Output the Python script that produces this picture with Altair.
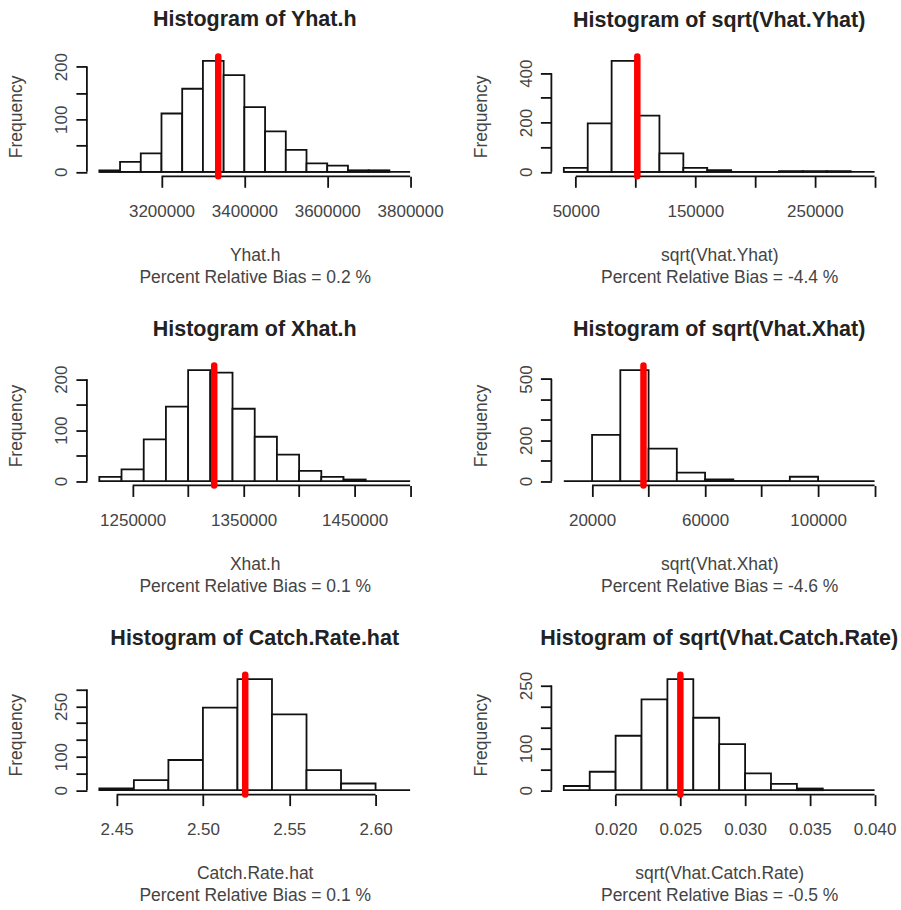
import json
import altair as alt
import pandas as pd

FONT = "Liberation Sans"
W, H = 336, 120

# ---------------- data ----------------
yhat_edges = [3050000, 3100000, 3150000, 3200000, 3250000, 3300000, 3350000, 3400000,
              3450000, 3500000, 3550000, 3600000, 3650000, 3700000, 3750000]
yhat_counts = [3, 19, 35, 111, 158, 211, 184, 123, 77, 42, 16, 12, 3, 3]
yhat_truth = 3337000

vy_edges = [40000, 60000, 80000, 100000, 120000, 140000, 160000, 180000, 200000,
            220000, 240000, 260000, 280000]
vy_counts = [16, 197, 450, 228, 75, 16, 7, 0, 0, 3, 3, 3]
vy_truth = 101500

xhat_edges = [1220000, 1240000, 1260000, 1280000, 1300000, 1320000, 1340000, 1360000,
              1380000, 1400000, 1420000, 1440000, 1460000]
xhat_counts = [8, 23, 82, 146, 218, 213, 142, 87, 52, 20, 8, 3]
xhat_truth = 1323500

vx_edges = [20000, 30000, 40000, 50000, 60000, 70000, 80000, 90000, 100000]
vx_counts = [226, 544, 159, 41, 8, 0, 0, 21]
vx_truth = 38200

cr_edges = [2.44, 2.46, 2.48, 2.50, 2.52, 2.54, 2.56, 2.58, 2.60]
cr_counts = [5, 30, 90, 246, 331, 226, 60, 20]
cr_truth = 2.5245

vcr_edges = [0.016, 0.018, 0.020, 0.022, 0.024, 0.026, 0.028, 0.030, 0.032, 0.034, 0.036]
vcr_counts = [10, 44, 130, 217, 265, 173, 110, 40, 15, 4]
vcr_truth = 0.025

panels_spec = [
    dict(title="Histogram of Yhat.h", xlab="Yhat.h", bias="Percent Relative Bias = 0.2 %",
         edges=yhat_edges, counts=yhat_counts, truth=yhat_truth,
         xlim=[3050000, 3800000], xticks=[3200000, 3400000, 3600000, 3800000], xshow=None, xfmt="d",
         yticks=[0, 50, 100, 150, 200], yshow=[0, 100, 200]),
    dict(title="Histogram of sqrt(Vhat.Yhat)", xlab="sqrt(Vhat.Yhat)", bias="Percent Relative Bias = -4.4 %",
         edges=vy_edges, counts=vy_counts, truth=vy_truth,
         xlim=[40000, 300000], xticks=[50000, 100000, 150000, 200000, 250000, 300000],
         xshow=[50000, 150000, 250000], xfmt="d",
         yticks=[0, 100, 200, 300, 400], yshow=[0, 200, 400]),
    dict(title="Histogram of Xhat.h", xlab="Xhat.h", bias="Percent Relative Bias = 0.1 %",
         edges=xhat_edges, counts=xhat_counts, truth=xhat_truth,
         xlim=[1220000, 1500000], xticks=[1250000, 1300000, 1350000, 1400000, 1450000, 1500000],
         xshow=[1250000, 1350000, 1450000], xfmt="d",
         yticks=[0, 50, 100, 150, 200], yshow=[0, 100, 200]),
    dict(title="Histogram of sqrt(Vhat.Xhat)", xlab="sqrt(Vhat.Xhat)", bias="Percent Relative Bias = -4.6 %",
         edges=vx_edges, counts=vx_counts, truth=vx_truth,
         xlim=[10000, 120000], xticks=[20000, 40000, 60000, 80000, 100000, 120000],
         xshow=[20000, 60000, 100000], xfmt="d",
         yticks=[0, 100, 200, 300, 400, 500], yshow=[0, 200, 500]),
    dict(title="Histogram of Catch.Rate.hat", xlab="Catch.Rate.hat", bias="Percent Relative Bias = 0.1 %",
         edges=cr_edges, counts=cr_counts, truth=cr_truth,
         xlim=[2.44, 2.62], xticks=[2.45, 2.50, 2.55, 2.60], xshow=None, xfmt=".2f",
         yticks=[0, 50, 100, 150, 200, 250, 300], yshow=[0, 100, 250]),
    dict(title="Histogram of sqrt(Vhat.Catch.Rate)", xlab="sqrt(Vhat.Catch.Rate)",
         bias="Percent Relative Bias = -0.5 %",
         edges=vcr_edges, counts=vcr_counts, truth=vcr_truth,
         xlim=[0.016, 0.040], xticks=[0.020, 0.025, 0.030, 0.035, 0.040], xshow=None, xfmt=".3f",
         yticks=[0, 50, 100, 150, 200, 250], yshow=[0, 100, 250]),
]

INK = "#111111"


def show_expr(vals):
    return f"indexof({json.dumps(vals)}, datum.value) >= 0 ? datum.label : ''"


def panel(p):
    counts = p["counts"]
    edges = p["edges"]
    ymax = max(counts)
    ylo, yhi = -0.04 * ymax, 1.04 * ymax
    x0, x1 = p["xlim"]
    xr = x1 - x0
    xlo, xhi = x0 - 0.04 * xr, x1 + 0.04 * xr

    xs = alt.Scale(domain=[xlo, xhi], nice=False, zero=False)
    ys = alt.Scale(domain=[ylo, yhi], nice=False, zero=False)

    xaxis_kw = dict(values=p["xticks"], format=p["xfmt"], title=[p["xlab"], p["bias"]],
                    domain=False, grid=False, tickSize=11, labelPadding=16,
                    labelOverlap=False, labelFlush=False, labelBound=False, titlePadding=27)
    if p["xshow"]:
        xaxis_kw["labelExpr"] = show_expr(p["xshow"])
    xaxis = alt.Axis(**xaxis_kw)
    yaxis = alt.Axis(values=p["yticks"], format="d", title="Frequency", labelExpr=show_expr(p["yshow"]),
                     domain=False, grid=False, tickSize=11, labelAngle=270, labelAlign="center",
                     labelBaseline="alphabetic", labelPadding=9, labelOverlap=False,
                     labelFlush=False, labelBound=False, titlePadding=27)

    X = lambda: alt.X("x:Q", scale=xs, axis=xaxis)
    Y = lambda: alt.Y("y:Q", scale=ys, axis=yaxis)

    bars_df = pd.DataFrame({"x": edges[:-1], "x2": edges[1:], "y": counts, "y2": [0] * len(counts)})
    base_df = pd.DataFrame({"x": [x0], "x2": [x1], "y": [0]})
    xline_df = pd.DataFrame({"x": [p["xticks"][0]], "x2": [p["xticks"][-1]], "y": [ylo]})
    yline_df = pd.DataFrame({"x": [xlo], "y": [0], "y2": [p["yticks"][-1]]})
    truth_df = pd.DataFrame({"x": [p["truth"]]})

    baseline = alt.Chart(base_df).mark_rule(color=INK, strokeWidth=1.8).encode(
        x=X(), x2="x2:Q", y=Y())
    bars = alt.Chart(bars_df).mark_rect(fill="white", stroke=INK, strokeWidth=1.8).encode(
        x=X(), x2="x2:Q", y=Y(), y2="y2:Q")
    xline = alt.Chart(xline_df).mark_rule(color=INK, strokeWidth=1.8).encode(
        x=X(), x2="x2:Q", y=Y())
    yline = alt.Chart(yline_df).mark_rule(color=INK, strokeWidth=1.8).encode(
        x=X(), y=Y(), y2="y2:Q")
    truth = alt.Chart(truth_df).mark_rule(color="#ff0000", strokeWidth=6.5, strokeCap="round").encode(
        x=X())

    return alt.layer(baseline, bars, xline, yline, truth).properties(
        width=W, height=H,
        title=alt.TitleParams(text=p["title"], font=FONT, fontSize=21.5, fontWeight="bold",
                              color="#222222", anchor="middle", frame="group", offset=22),
    )


charts = [panel(p) for p in panels_spec]

chart = alt.concat(*charts, columns=2, spacing={"row": 189.5, "column": 129}, bounds="flush").properties(
    padding={"left": 7, "top": 8, "right": 2, "bottom": 5},
    background="white",
).configure_view(strokeWidth=0).configure_axis(
    labelFont=FONT, titleFont=FONT, labelFontSize=17, titleFontSize=17.5,
    labelColor="#444444", titleColor="#444444", titleFontWeight="normal",
    tickColor=INK, tickWidth=1.8, titleLineHeight=22.5,
)

chart.save("out.html", embed_options={"renderer": "svg", "actions": False})
